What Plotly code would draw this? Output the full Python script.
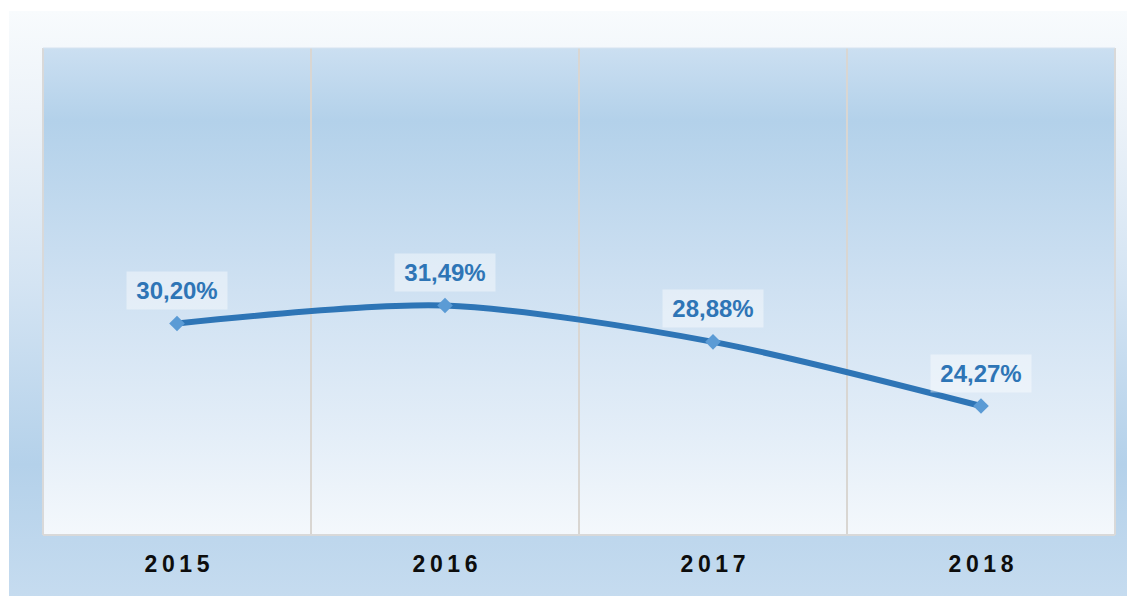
import base64
import plotly.graph_objects as go

# ---- data ----
years = ["2015", "2016", "2017", "2018"]
values = [30.20, 31.49, 28.88, 24.27]
labels = ["30,20%", "31,49%", "28,88%", "24,27%"]
tick_labels = ["\u2009".join(list(y)) for y in years]

# page body has an 8px margin, so the figure starts at (8, 8)
W, H = 1127, 588
ML, MT = 35, 40
PW, PH = 1072, 487
MR, MB = W - ML - PW, H - MT - PH


def grad_svg(stops):
    st = "".join(f'<stop offset="{o}" stop-color="{c}"/>' for o, c in stops)
    svg = ('<svg xmlns="http://www.w3.org/2000/svg" width="100" height="100" '
           'viewBox="0 0 100 100" preserveAspectRatio="none">'
           '<defs><linearGradient id="g" x1="0" y1="0" x2="0" y2="1">' + st +
           '</linearGradient></defs><rect x="0" y="0" width="100" height="100" fill="url(#g)"/></svg>')
    return "data:image/svg+xml;base64," + base64.b64encode(svg.encode()).decode()


outer = grad_svg([(0, "#f8fbfd"), (0.2, "#eaf1f8"), (0.45, "#d4e4f3"),
                  (0.75, "#b4d1ea"), (1, "#c8ddf0")])
inner = grad_svg([(0, "#cbdff1"), (0.15, "#b3d1ea"), (0.5, "#cfe1f2"),
                  (0.8, "#e4eef8"), (1, "#f4f8fc")])

# outer box in paper coords (figure px: x 1..W, y 3..H), extended past the edge
ox0 = (1 - ML) / PW
ox1 = (W + 20 - ML) / PW
oy_top = (MT + PH - 3) / PH
oy_bot = (MT + PH - H - 20) / PH

fig = go.Figure()
fig.add_trace(go.Scatter(
    x=list(range(len(years))), y=values, mode="lines+markers",
    line=dict(color="#2e75b6", width=6, shape="spline", smoothing=0.8),
    marker=dict(symbol="diamond", size=12, color="#5b9bd5"),
    hoverinfo="skip", showlegend=False,
))

for i, (v, t) in enumerate(zip(values, labels)):
    fig.add_annotation(
        x=i, y=v, text=t, showarrow=False, yshift=33, xanchor="center", yanchor="middle",
        font=dict(family="Liberation Sans, Arial, sans-serif", size=24, color="#2e75b6", weight="bold"),
        bgcolor="rgba(255,255,255,0.42)", width=92, height=29, borderpad=4,
    )

shapes = []
for i in range(len(years) - 1):
    shapes.append(dict(type="line", xref="x", yref="paper", x0=i + 0.5, x1=i + 0.5,
                       y0=0, y1=1, line=dict(color="#d9d6d2", width=2), layer="below"))
# plot border: left, right, bottom
for x0, y0, x1, y1 in [(0, 0, 0, 1), (1, 0, 1, 1), (0, 0, 1, 0)]:
    shapes.append(dict(type="line", xref="paper", yref="paper", x0=x0, x1=x1, y0=y0, y1=y1,
                       line=dict(color="#d9d9d9", width=2), layer="below"))
shapes.append(dict(type="line", xref="paper", yref="paper", x0=0, x1=1, y0=1, y1=1,
                   line=dict(color="#d6e3f0", width=1), layer="below"))

fig.update_layout(
    width=W, height=H,
    margin=dict(l=ML, r=MR, t=MT, b=MB),
    paper_bgcolor="white", plot_bgcolor="rgba(0,0,0,0)",
    images=[
        dict(source=outer, xref="paper", yref="paper", x=ox0, y=oy_top,
             sizex=ox1 - ox0, sizey=oy_top - oy_bot, sizing="stretch", layer="below",
             xanchor="left", yanchor="top"),
        dict(source=inner, xref="paper", yref="paper", x=0, y=1, sizex=1, sizey=1,
             sizing="stretch", layer="below", xanchor="left", yanchor="top"),
    ],
    shapes=shapes,
    xaxis=dict(range=[-0.5, len(years) - 0.5], tickvals=list(range(len(years))),
               ticktext=tick_labels, showgrid=False, zeroline=False, showline=False,
               ticks="", ticklabelstandoff=13,
               tickfont=dict(family="Liberation Sans, Arial, sans-serif", size=23,
                             color="#0d0d0d", weight="bold")),
    yaxis=dict(range=[15, 50], showgrid=False, zeroline=False, showticklabels=False,
               showline=False, ticks=""),
)

fig.write_html("out.html")
